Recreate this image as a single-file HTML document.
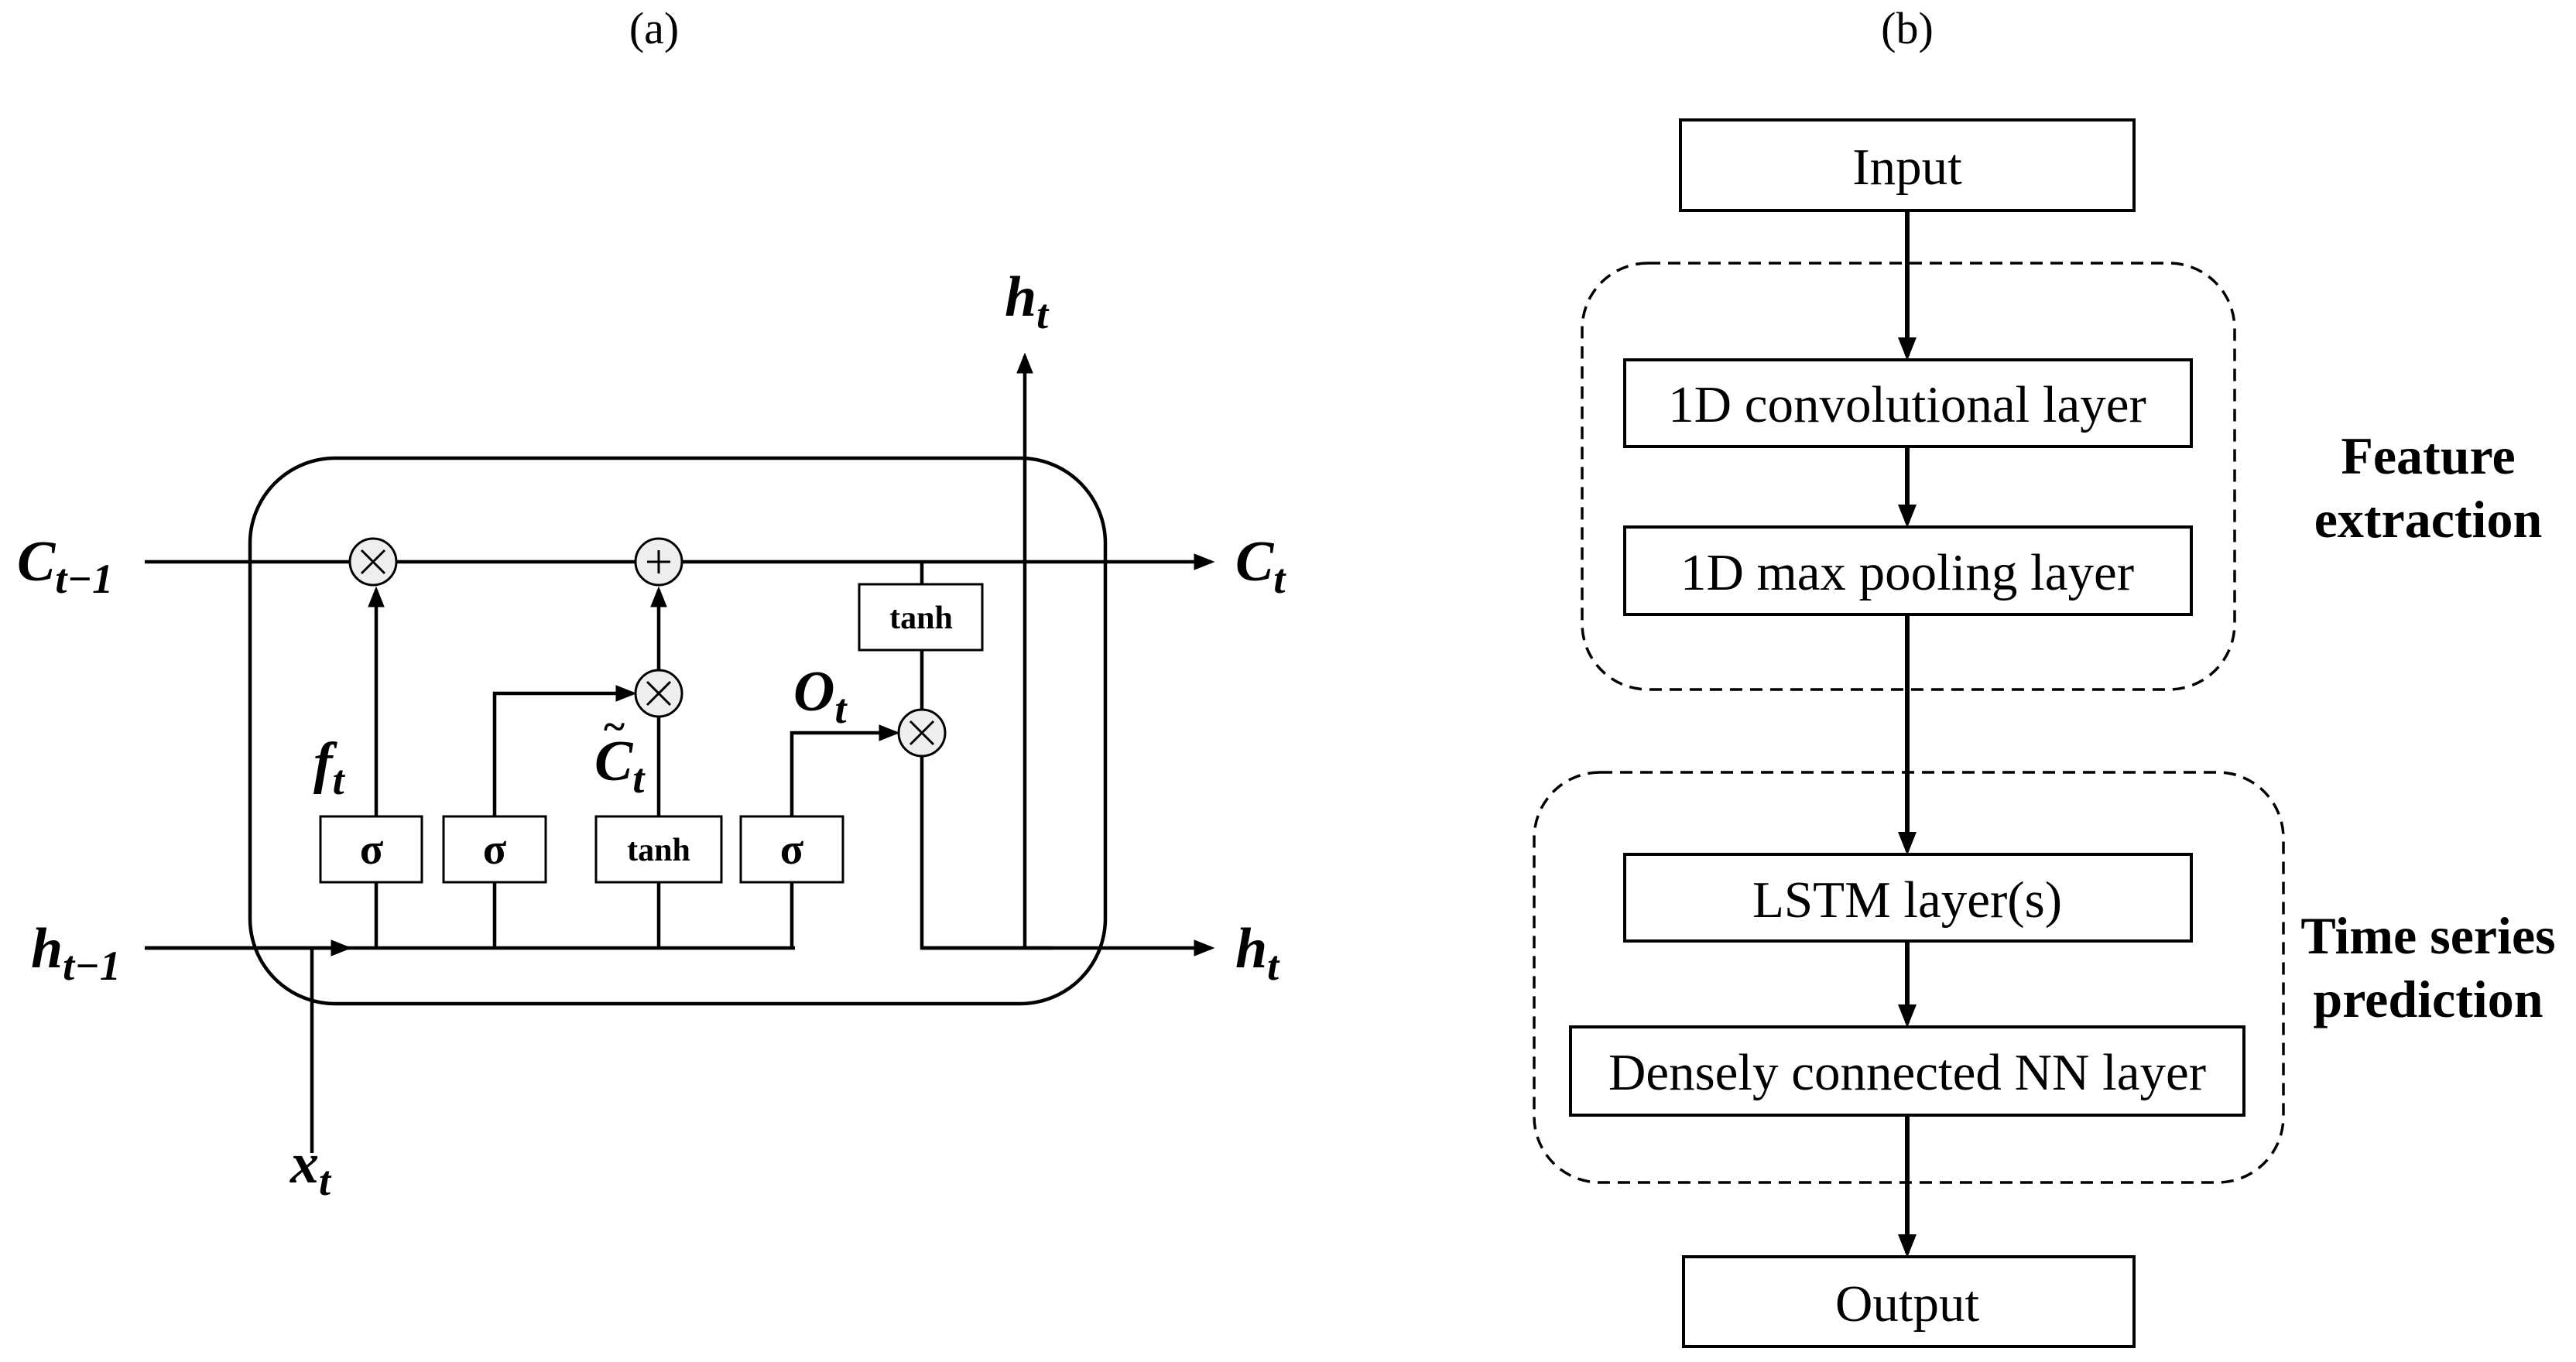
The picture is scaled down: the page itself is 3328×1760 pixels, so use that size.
<!DOCTYPE html>
<html><head><meta charset="utf-8"><style>
html,body{margin:0;padding:0;background:#fff;width:3328px;height:1760px;overflow:hidden}
svg{display:block}
text{font-family:"Liberation Serif",serif;fill:#000}
</style></head><body>
<svg width="3328" height="1760" viewBox="0 0 3328 1760" xmlns="http://www.w3.org/2000/svg">
<defs>
<marker id="a" markerWidth="6" markerHeight="6" refX="5" refY="3" orient="auto" markerUnits="strokeWidth"><path d="M0,0.6 L6,3 L0,5.4 Z" fill="#000"/></marker>
<marker id="b" markerWidth="5" markerHeight="5" refX="4" refY="2.5" orient="auto" markerUnits="strokeWidth"><path d="M0,0.5 L5,2.5 L0,4.5 Z" fill="#000"/></marker>
</defs>
<text x="845" y="56" font-size="58" text-anchor="middle">(a)</text>
<text x="2464" y="56" font-size="58" text-anchor="middle">(b)</text>

<g stroke="#000" stroke-width="4.5" fill="none">
<rect x="323" y="592" width="1105" height="705" rx="110"/>
<line x1="187" y1="726" x2="1565" y2="726" marker-end="url(#a)"/>
<line x1="187" y1="1225" x2="1027" y2="1225"/>
<line x1="187" y1="1225" x2="450" y2="1225" marker-end="url(#a)"/>
<line x1="1191" y1="1225" x2="1565" y2="1225" marker-end="url(#a)"/>
<line x1="403" y1="1225" x2="403" y2="1490"/>
<line x1="1324" y1="1225" x2="1324" y2="460" marker-end="url(#a)"/>
<line x1="486" y1="1225" x2="486" y2="1140"/>
<line x1="486" y1="1055" x2="486" y2="762" marker-end="url(#a)"/>
<line x1="639" y1="1225" x2="639" y2="1140"/>
<polyline points="639,1055 639,896 818,896" marker-end="url(#a)"/>
<line x1="851" y1="1225" x2="851" y2="1140"/>
<line x1="851" y1="1055" x2="851" y2="926"/>
<line x1="851" y1="866" x2="851" y2="762" marker-end="url(#a)"/>
<line x1="1023" y1="1225" x2="1023" y2="1140"/>
<polyline points="1023,1055 1023,947 1158,947" marker-end="url(#a)"/>
<line x1="1191" y1="726" x2="1191" y2="755"/>
<line x1="1191" y1="840" x2="1191" y2="917"/>
<polyline points="1191,977 1191,1225 1360,1225"/>
</g>
<g stroke="#000" stroke-width="3" fill="#fff">
<rect x="414" y="1055" width="131" height="85"/>
<rect x="573" y="1055" width="132" height="85"/>
<rect x="770" y="1055" width="162" height="85"/>
<rect x="957" y="1055" width="132" height="85"/>
<rect x="1110" y="755" width="159" height="85"/>
</g>
<g stroke="#000" stroke-width="3" fill="#eee">
<circle cx="482" cy="726" r="30"/><circle cx="851" cy="726" r="30"/>
<circle cx="851" cy="896" r="30"/><circle cx="1191" cy="947" r="30"/>
</g>
<g stroke="#000" stroke-width="3">
<path d="M467,711 L497,741 M497,711 L467,741"/>
<path d="M836,726 L866,726 M851,711 L851,741"/>
<path d="M836,881 L866,911 M866,881 L836,911"/>
<path d="M1176,932 L1206,962 M1206,932 L1176,962"/>
</g>
<g font-weight="bold" text-anchor="middle">
<text x="480" y="1116" font-size="56">σ</text>
<text x="639" y="1116" font-size="56">σ</text>
<text x="1023" y="1116" font-size="56">σ</text>
<text x="851" y="1112" font-size="42">tanh</text>
<text x="1190" y="812" font-size="42">tanh</text>
</g>
<g font-weight="bold" font-style="italic" font-size="74">
<text x="22" y="750">C<tspan font-size="54" dy="16">t−1</tspan></text>
<text x="1596" y="750">C<tspan font-size="54" dy="16">t</tspan></text>
<text x="40" y="1250">h<tspan font-size="54" dy="16">t−1</tspan></text>
<text x="1596" y="1250">h<tspan font-size="54" dy="16">t</tspan></text>
<text x="1298" y="408">h<tspan font-size="54" dy="16">t</tspan></text>
<text x="375" y="1528">x<tspan font-size="54" dy="16">t</tspan></text>
<text x="405" y="1010">f<tspan font-size="54" dy="16">t</tspan></text>
<text x="768" y="1008">C<tspan font-size="54" dy="16">t</tspan></text>
<text x="1025" y="918">O<tspan font-size="54" dy="16">t</tspan></text>
</g>
<text x="780" y="956" font-size="52" font-weight="bold">~</text>

<g stroke="#000" stroke-width="3.5" fill="none" stroke-dasharray="16,10">
<rect x="2044" y="340" width="843" height="551" rx="85"/>
<rect x="1982" y="998" width="968" height="530" rx="85"/>
</g>
<g stroke="#000" stroke-width="6" fill="none">
<line x1="2464" y1="272" x2="2464" y2="460" marker-end="url(#b)"/>
<line x1="2464" y1="577" x2="2464" y2="676" marker-end="url(#b)"/>
<line x1="2464" y1="794" x2="2464" y2="1099" marker-end="url(#b)"/>
<line x1="2464" y1="1216" x2="2464" y2="1322" marker-end="url(#b)"/>
<line x1="2464" y1="1441" x2="2464" y2="1619" marker-end="url(#b)"/>
</g>
<g stroke="#000" stroke-width="4" fill="#fff">
<rect x="2171" y="155" width="586" height="117"/>
<rect x="2099" y="465" width="732" height="112"/>
<rect x="2099" y="681" width="732" height="113"/>
<rect x="2099" y="1104" width="732" height="112"/>
<rect x="2029" y="1327" width="870" height="114"/>
<rect x="2175" y="1624" width="582" height="116"/>
</g>
<g font-size="67" text-anchor="middle">
<text x="2464" y="238">Input</text>
<text x="2464" y="545">1D convolutional layer</text>
<text x="2464" y="762">1D max pooling layer</text>
<text x="2464" y="1185">LSTM layer(s)</text>
<text x="2464" y="1408">Densely connected NN layer</text>
<text x="2464" y="1707">Output</text>
</g>
<g font-size="68" font-weight="bold" text-anchor="middle">
<text x="3137" y="612">Feature</text>
<text x="3137" y="694">extraction</text>
<text x="3137" y="1232">Time series</text>
<text x="3137" y="1314">prediction</text>
</g>
</svg>
</body></html>
